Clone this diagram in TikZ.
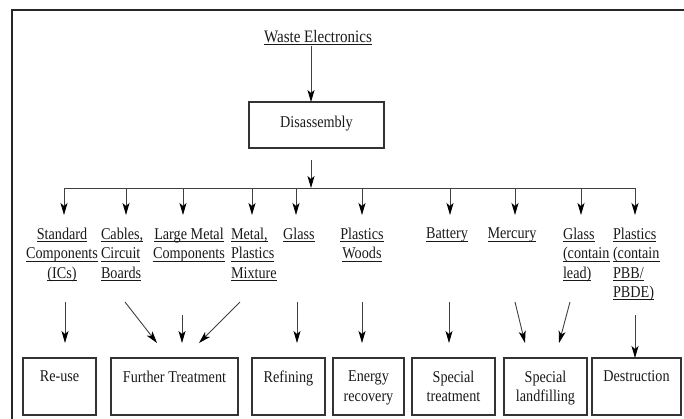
\documentclass[tikz,border=0pt]{standalone}
\usepackage{fontspec}
\setmainfont{Liberation Serif}[FakeStretch=0.86]
\usetikzlibrary{arrows.meta}
% underline at a fixed distance below the baseline
\newcommand\ulx[1]{\setbox0\hbox{#1}\rlap{\rule[-2.6pt]{\wd0}{0.7pt}}\box0}
\begin{document}
\begin{tikzpicture}[x=1pt,y=-1pt,
  every node/.style={inner sep=0pt,outer sep=0pt},
  txt/.style={font=\fontsize{16.5}{19.3}\selectfont,text=black!90},
  lbl/.style={txt,anchor=north},
  lbll/.style={txt,anchor=north west,align=left},
  lblc/.style={txt,anchor=north,align=center},
  outbox/.style={draw=black!80,line width=1.1pt,anchor=north west},
  conn/.style={draw=black!75,line width=0.9pt},
  arr/.style={conn,-{Stealth[length=12pt,width=7pt,inset=3pt,color=black]}}]
\useasboundingbox (0,0) rectangle (684,418);
\clip (0,0) rectangle (684,418);
% outer frame
\draw[line width=1.6pt,draw=black!85] (12,10) rectangle (700,430);

% source and disassembly
\node[txt,anchor=base,font=\fontsize{17.5}{20}\selectfont] (waste) at (318,42) {\ulx{Waste Electronics}};
\node[outbox,minimum width=135pt,minimum height=46pt] (dis) at (249,102) {};
\node[txt] (distxt) at (316.5,124) {Disassembly};
\coordinate (wfoot) at (311,46);
\coordinate (dtop) at (311,102);
\draw[arr] (wfoot) -- (dtop);

% distribution bus
\coordinate (dout) at (311,160);
\coordinate (bus) at (311,188);
\draw[arr] (dout) -- (bus);
\coordinate (b1) at (64,188);
\coordinate (b2) at (126,188);
\coordinate (b3) at (183,188);
\coordinate (b4) at (252,188);
\coordinate (b5) at (296,188);
\coordinate (b6) at (362,188);
\coordinate (b7) at (450,188);
\coordinate (b8) at (515,188);
\coordinate (b9) at (581,188);
\coordinate (b10) at (635,188);
\draw[conn] (b1) -- (b10);

% fractions
\node[lblc] (std) at (62,228) {\ulx{Standard}\\\ulx{Components}\\\ulx{(ICs)}};
\node[lbll] (cab) at (101,228) {\ulx{Cables,}\\\ulx{Circuit}\\\ulx{Boards}};
\node[lblc] (lmc) at (189,228) {\ulx{Large Metal}\\\ulx{Components}};
\node[lbll] (mpm) at (231,228) {\ulx{Metal,}\\\ulx{Plastics}\\\ulx{Mixture}};
\node[lbl] (gls) at (299,228) {\ulx{Glass}};
\node[lblc] (plw) at (362,228) {\ulx{Plastics}\\\ulx{Woods}};
\node[lbl] (bat) at (447,228) {\ulx{Battery}};
\node[lbl] (mer) at (512,228) {\ulx{Mercury}};
\node[lbll] (gll) at (563,228) {\ulx{Glass}\\\ulx{(contain}\\\ulx{lead)}};
\node[lbll] (plp) at (613,228) {\ulx{Plastics}\\\ulx{(contain}\\\ulx{PBB/}\\\ulx{PBDE)}};

\foreach \b/\n in {b1/std,b2/cab,b3/lmc,b4/mpm,b5/gls,b6/plw,b7/bat,b8/mer,b9/gll,b10/plp}
  \draw[arr,shorten >=13pt] (\b) -- (\b |- \n.north);

% treatment boxes
\node[outbox,minimum width=73pt,minimum height=57pt] (reuse) at (23,358) {};
\node[outbox,minimum width=127pt,minimum height=57pt] (further) at (111,358) {};
\node[outbox,minimum width=73pt,minimum height=57pt] (refin) at (252,358) {};
\node[outbox,minimum width=71pt,minimum height=57pt] (energy) at (333,358) {};
\node[outbox,minimum width=83pt,minimum height=57pt] (spectr) at (412,358) {};
\node[outbox,minimum width=83pt,minimum height=57pt] (speclf) at (504,358) {};
\node[outbox,minimum width=89pt,minimum height=57pt] (destr) at (592,358) {};

\node[lblc] (reusetxt) at ([yshift=-13pt]reuse.north) {Re-use};
\node[lblc] (furthertxt) at ([yshift=-13pt]further.north) {Further Treatment};
\node[lblc] (refintxt) at ([yshift=-13pt]refin.north) {Refining};
\node[lblc] (energytxt) at ([yshift=-13pt]energy.north) {Energy\\recovery};
\node[lblc] (spectrtxt) at ([yshift=-13pt]spectr.north) {Special\\treatment};
\node[lblc] (speclftxt) at ([yshift=-13pt]speclf.north) {Special\\landfilling};
\node[lblc] (destrtxt) at ([yshift=-13pt]destr.north) {Destruction};

% routes to treatment
\coordinate (s1) at (65,302);   \coordinate (e1) at (65,343);
\coordinate (s2) at (125,302);  \coordinate (e2) at (157,343);
\coordinate (s3) at (182,315);  \coordinate (e3) at (182,343);
\coordinate (s4) at (240,302);  \coordinate (e4) at (199,343);
\coordinate (s5) at (297,302);  \coordinate (e5) at (297,343);
\coordinate (s6) at (362,302);  \coordinate (e6) at (362,343);
\coordinate (s7) at (449,302);  \coordinate (e7) at (449,343);
\coordinate (s8) at (515,302);  \coordinate (e8) at (525,343);
\coordinate (s9) at (570,302);  \coordinate (e9) at (559,343);
\coordinate (s10) at (635,315);
\foreach \i in {1,...,9}
  \draw[arr] (s\i) -- (e\i);
\draw[arr] (s10) -- (s10 |- destr.north);
\end{tikzpicture}
\end{document}
